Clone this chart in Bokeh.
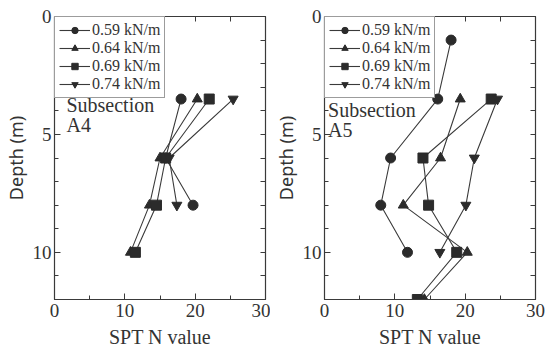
from bokeh.plotting import figure
from bokeh.models import (Range1d, FixedTicker, LinearAxis, Legend, LegendItem, Label)
from bokeh.layouts import row
from bokeh.embed import file_html
from bokeh.resources import INLINE

labels = ["0.59 kN/m", "0.64 kN/m", "0.69 kN/m", "0.74 kN/m"]
markers = ["circle", "triangle", "square", "inverted_triangle"]

# Subsection A4
a4_depth_059 = [3.5, 6, 8]
a4_n_059 = [18.0, 15.8, 19.7]
a4_depth_064 = [3.5, 6, 8, 10]
a4_n_064 = [20.3, 15.0, 13.5, 10.8]
a4_depth_069 = [3.5, 6, 8, 10]
a4_n_069 = [22.0, 15.8, 14.5, 11.5]
a4_depth_074 = [3.5, 6, 8]
a4_n_074 = [25.4, 16.3, 17.4]

# Subsection A5
a5_depth_059 = [1, 3.5, 6, 8, 10]
a5_n_059 = [18.0, 16.1, 9.4, 8.0, 11.8]
a5_depth_064 = [3.5, 6, 8, 10, 12]
a5_n_064 = [19.3, 16.5, 11.2, 20.3, 14.2]
a5_depth_069 = [3.5, 6, 8, 10, 12]
a5_n_069 = [23.7, 14.0, 14.8, 18.8, 13.2]
a5_depth_074 = [3.5, 6, 8, 10]
a5_n_074 = [24.6, 21.3, 20.1, 16.4]

x_ticks = [0, 10, 20, 30]
x_minor = [5, 15, 25]
x_all = [0, 5, 10, 15, 20, 25, 30]
y_ticks = [0, 5, 10]
y_minor = list(range(0, 13))

SERIF = "Liberation Serif"
SANS = "Noto Sans"
DARK = "#3a3a3a"


def style_ticks(ax, major_in, minor_in):
    ax.axis_line_color = DARK
    ax.major_tick_line_color = DARK
    ax.minor_tick_line_color = DARK
    ax.major_tick_in = major_in
    ax.major_tick_out = 0
    ax.minor_tick_in = minor_in
    ax.minor_tick_out = 0


def make_panel(series, title, width, left, right, sub_xy):
    p = figure(width=width, height=356, output_backend="svg", toolbar_location=None,
               x_range=Range1d(0, 30), y_range=Range1d(12, 0),
               min_border_left=left, min_border_right=right,
               min_border_top=16, min_border_bottom=57)
    p.grid.visible = False
    p.outline_line_color = DARK
    p.outline_line_width = 1.2
    p.background_fill_color = "white"
    p.border_fill_color = "white"

    for ax in (p.xaxis[0], p.yaxis[0]):
        style_ticks(ax, 6, 4)
        ax.major_label_text_font = SERIF
        ax.major_label_text_font_size = "19px"
        ax.major_label_text_color = "#333333"
        ax.axis_label_text_font_style = "normal"
        ax.axis_label_text_color = "#333333"
    p.xaxis.ticker = FixedTicker(ticks=x_ticks, minor_ticks=x_minor)
    p.yaxis.ticker = FixedTicker(ticks=y_ticks, minor_ticks=y_minor)
    p.xaxis.axis_label = "SPT N value"
    p.xaxis.axis_label_text_font = SERIF
    p.xaxis.axis_label_text_font_size = "20px"
    p.xaxis.axis_label_standoff = 6
    p.xaxis.major_label_standoff = 4
    p.yaxis.axis_label = "Depth (m)"
    p.yaxis.axis_label_text_font = SANS
    p.yaxis.axis_label_text_font_size = "18px"
    p.yaxis.axis_label_standoff = 2
    p.yaxis.major_label_standoff = 3

    # mirrored axes: ticks only (all as minor ticks, so no labels are made)
    top = LinearAxis(ticker=FixedTicker(ticks=[], minor_ticks=x_all))
    rgt = LinearAxis(ticker=FixedTicker(ticks=[], minor_ticks=y_minor))
    for ax in (top, rgt):
        style_ticks(ax, 6, 5)
        ax.major_label_standoff = 0
    p.add_layout(top, "above")
    p.add_layout(rgt, "right")

    items = []
    for (n, d), lab, mk in zip(series, labels, markers):
        lr = p.line(n, d, line_color=DARK, line_width=1.1)
        sr = p.scatter(n, d, marker=mk, size=10, fill_color="#2b2b2b", line_color="#2b2b2b")
        items.append(LegendItem(label=lab, renderers=[lr, sr]))
    leg = Legend(items=items, location="top_left", margin=0, padding=4, spacing=0,
                 glyph_width=31, glyph_height=16, label_height=16, label_standoff=2,
                 label_text_font=SERIF, label_text_font_size="16px", label_text_color="#333333",
                 border_line_color=DARK, border_line_width=1.2, background_fill_alpha=1)
    p.add_layout(leg)

    p.add_layout(Label(x=sub_xy[0], y=sub_xy[1], text="Subsection", text_font=SERIF,
                       text_font_size="20px", text_color="#333333", text_baseline="middle"))
    p.add_layout(Label(x=sub_xy[0], y=sub_xy[1] + 0.85, text=title, text_font=SERIF,
                       text_font_size="20px", text_color="#333333", text_baseline="middle"))
    return p


p1 = make_panel([(a4_n_059, a4_depth_059), (a4_n_064, a4_depth_064),
                 (a4_n_069, a4_depth_069), (a4_n_074, a4_depth_074)],
                "A4", 270, 52, 5, (1.7, 3.75))
p2 = make_panel([(a5_n_059, a5_depth_059), (a5_n_064, a5_depth_064),
                 (a5_n_069, a5_depth_069), (a5_n_074, a5_depth_074)],
                "A5", 277, 53, 12, (0.5, 3.97))

p = row(p1, p2)
open("out.html", "w").write(file_html(p, INLINE))
